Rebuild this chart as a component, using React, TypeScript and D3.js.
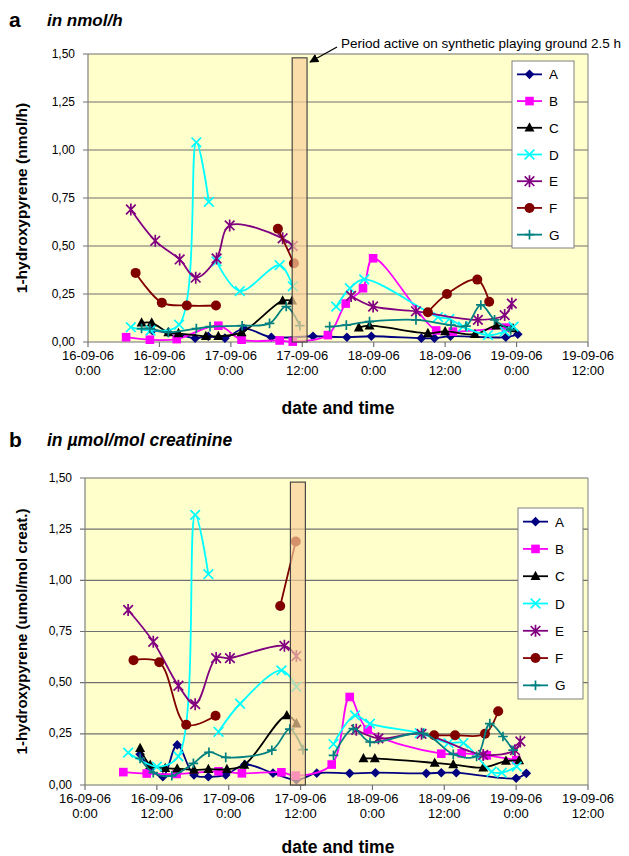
import React from "react";
import * as d3 from "d3";

// hours after 16-09-06 0:00, value; null breaks the line
type Pt = [number, number] | null;

const seriesNames = ["A", "B", "C", "D", "E", "F", "G"];
const seriesColors = ["#000080", "#FF00FF", "#000000", "#00FFFF", "#800080", "#800000", "#008080"];
const seriesMarkers = ["diamond", "square", "triangle", "x", "star", "circle", "plus"];

const yTicks = [0, 0.25, 0.5, 0.75, 1.0, 1.25, 1.5];
const xTickHours = [0, 12, 24, 36, 48, 60, 72, 84];
const xTickDays = ["16-09-06", "16-09-06", "17-09-06", "17-09-06", "18-09-06", "18-09-06", "19-09-06", "19-09-06"];
const xTickTimes = ["0:00", "12:00", "0:00", "12:00", "0:00", "12:00", "0:00", "12:00"];

// active period on the synthetic playing ground
const activeStart = 34.3;
const activeEnd = 36.8;
const activeTop = 1.48;

// ---- panel a: nmol/h
const aA: Pt[] = [[10.8, 0.06], [13.5, 0.05], [18, 0.02], [20.2, 0.03], [23, 0.02], [26.2, 0.07], [30.8, 0.025], [37.8, 0.03], [43.5, 0.025], [47.6, 0.03], [56, 0.02], [58.2, 0.02], [60.9, 0.03], [70.2, 0.025], [72.2, 0.04]];
const aB: Pt[] = [[6.4, 0.025], [10.4, 0.012], [14.9, 0.015], [21.9, 0.085], [25.8, 0.012], [32.2, 0.008], [34.4, 0.002], [40.3, 0.036], [43.3, 0.2], [46.2, 0.28], [47.9, 0.436], [58.5, 0.06], [61.3, 0.054], [70.2, 0.075]];
const aC: Pt[] = [[9, 0.1], [10.7, 0.1], [13.5, 0.05], [15.2, 0.045], [19.8, 0.03], [21.9, 0.03], [25.8, 0.05], [32.7, 0.215], [34.3, 0.215], null, [45.5, 0.075], [47.3, 0.085], [57.1, 0.045], [60, 0.055], [65, 0.04], [68.6, 0.085], [71.4, 0.07]];
const aD: Pt[] = [[7.2, 0.077], [10.5, 0.06], [15.3, 0.09], [18.2, 1.04], [20.3, 0.73], null, [21.6, 0.42], [25.5, 0.265], [32.2, 0.4], [34.4, 0.29], null, [41.7, 0.184], [44, 0.28], [46.4, 0.326], [58.8, 0.13], [60.7, 0.12], [63, 0.08], [67.2, 0.036], [70, 0.055], [71.5, 0.08]];
const aE: Pt[] = [[7.2, 0.69], [11.3, 0.527], [15.4, 0.43], [18.1, 0.335], [21.6, 0.435], [23.8, 0.607], [32.7, 0.54], [34.4, 0.5], null, [44.2, 0.24], [47.9, 0.185], [55.1, 0.16], [65.5, 0.115], [70, 0.14], [71.2, 0.2]];
const aF: Pt[] = [[8, 0.36], [12.4, 0.205], [16.6, 0.19], [21.5, 0.19], null, [31.9, 0.59], [34.6, 0.41], null, [57.1, 0.155], [60.3, 0.25], [65.4, 0.325], [67.4, 0.21]];
const aG: Pt[] = [[9, 0.07], [10.4, 0.07], [13.5, 0.05], [18.2, 0.07], [20.5, 0.08], [25.9, 0.085], [30.5, 0.097], [33.3, 0.185], [35.6, 0.085], null, [40.6, 0.08], [43.4, 0.088], [47.3, 0.106], [55.1, 0.115], [61, 0.088], [63.5, 0.083], [66, 0.193], [68.3, 0.115], [71, 0.063]];

// ---- panel b: umol/mol creatinine
const bA: Pt[] = [[9.2, 0.15], [10.9, 0.08], [13, 0.04], [15.4, 0.196], [18.2, 0.049], [20.6, 0.04], [23.5, 0.049], [26.7, 0.1], [31.4, 0.058], [35.3, 0.025], [38.7, 0.058], [44.2, 0.057], [48.5, 0.06], [57, 0.057], [59.5, 0.06], [62, 0.06], [72, 0.033], [73.7, 0.057]];
const bB: Pt[] = [[6.4, 0.063], [10.3, 0.056], [15.3, 0.054], [22.3, 0.067], [26.2, 0.057], [32.8, 0.062], [35.2, 0.046], [41.2, 0.1], [44.2, 0.43], [47.2, 0.27], [59.5, 0.153], [62.9, 0.155], [67.1, 0.145], [72, 0.122]];
const bC: Pt[] = [[9.2, 0.18], [10.9, 0.098], [13.4, 0.082], [15.4, 0.08], [18.2, 0.074], [20.6, 0.077], [23.7, 0.077], [26.6, 0.098], [33.7, 0.34], [35.3, 0.3], null, [46.5, 0.13], [48.4, 0.13], [58.4, 0.108], [61.5, 0.1], [66.5, 0.085], [70.3, 0.117], [72.5, 0.12]];
const bD: Pt[] = [[7.2, 0.158], [12, 0.09], [15.6, 0.14], [18.4, 1.32], [20.6, 1.03], null, [22.3, 0.26], [25.9, 0.397], [32.8, 0.56], [35.3, 0.48], null, [41.5, 0.2], [45.1, 0.34], [47.6, 0.3], [55.9, 0.253], [60.7, 0.205], [63.2, 0.205], [67.9, 0.065], [69.6, 0.06], [72.1, 0.09]];
const bE: Pt[] = [[7.2, 0.855], [11.4, 0.7], [15.6, 0.485], [18.4, 0.395], [21.9, 0.62], [24.2, 0.62], [33.3, 0.68], [35.3, 0.63], null, [45.3, 0.27], [49, 0.228], [56.2, 0.25], [66.5, 0.147], [71.8, 0.17], [72.7, 0.213]];
const bF: Pt[] = [[8.1, 0.61], [12.4, 0.6], [16.9, 0.294], [21.8, 0.338], null, [32.6, 0.875], [35.2, 1.19], null, [58.3, 0.243], [61.8, 0.243], [66.8, 0.25], [69, 0.36]];
const bG: Pt[] = [[9.2, 0.13], [11.4, 0.06], [14.5, 0.045], [18.1, 0.106], [20.7, 0.16], [23.5, 0.135], [31.2, 0.17], [34.2, 0.273], [36.4, 0.173], null, [41.5, 0.145], [44.8, 0.275], [47.6, 0.21], [56.5, 0.252], [61.5, 0.15], [65.4, 0.14], [67.6, 0.3], [69.8, 0.237], [71.5, 0.17]];

const panelAData = [aA, aB, aC, aD, aE, aF, aG];
const panelBData = [bA, bB, bC, bD, bE, bF, bG];

const FONT = "Arial, 'Liberation Sans', sans-serif";

function Marker({ kind, x, y, color }: { kind: string; x: number; y: number; color: string }) {
  const s = 4.8;
  if (kind === "diamond")
    return <path d={`M${x},${y - s}L${x + s},${y}L${x},${y + s}L${x - s},${y}Z`} fill={color} />;
  if (kind === "square")
    return <rect x={x - 4.3} y={y - 4.3} width={8.6} height={8.6} fill={color} />;
  if (kind === "triangle")
    return <path d={`M${x},${y - 5.5}L${x + 5},${y + 3.8}L${x - 5},${y + 3.8}Z`} fill={color} />;
  if (kind === "circle") return <circle cx={x} cy={y} r={5} fill={color} />;
  if (kind === "x")
    return <path d={`M${x - s},${y - s}L${x + s},${y + s}M${x - s},${y + s}L${x + s},${y - s}`} stroke={color} strokeWidth={1.7} />;
  if (kind === "star")
    return <path d={`M${x - s},${y - s}L${x + s},${y + s}M${x - s},${y + s}L${x + s},${y - s}M${x},${y - 6}L${x},${y + 6}`} stroke={color} strokeWidth={1.7} />;
  // plus
  return <path d={`M${x - s},${y}L${x + s},${y}M${x},${y - s}L${x},${y + s}`} stroke={color} strokeWidth={1.7} />;
}

type Layout = {
  left: number; right: number; top: number; bottom: number;
  legX: number; legY: number; legW: number; legH: number;
  titleY: number; xTitleY: number; titleSize: number; yTitleSize: number;
};

function Panel({ data, layout, letter, title, yTitle }: { data: Pt[][]; layout: Layout; letter: string; title: string; yTitle: string }) {
  const { left, right, top, bottom } = layout;
  const x = d3.scaleLinear().domain([0, 84]).range([left, right]);
  const y = d3.scaleLinear().domain([0, 1.5]).range([bottom, top]);
  const line = d3
    .line<Pt>()
    .defined((d) => d !== null)
    .x((d) => x((d as [number, number])[0]))
    .y((d) => y((d as [number, number])[1]))
    .curve(d3.curveCatmullRom.alpha(0.5));
  const fmt = (v: number) => d3.format(".2f")(v).replace(".", ",");
  const rowH = layout.legH / seriesNames.length;

  return (
    <g fontFamily={FONT}>
      <text x={9} y={layout.titleY} fontSize={21} fontWeight="bold">{letter}</text>
      <text x={47} y={layout.titleY - 1} fontSize={layout.titleSize} fontWeight="bold" fontStyle="italic">{title}</text>

      <rect x={left} y={top} width={right - left} height={bottom - top} fill="#FFFFCC" />
      {yTicks.map((t) => (
        <g key={t}>
          <line x1={left - 5} x2={right} y1={y(t)} y2={y(t)} stroke="#707070" strokeWidth={1.2} />
          <text x={left - 13} y={y(t) + 3.5} fontSize={12} textAnchor="end">{fmt(t)}</text>
        </g>
      ))}
      <line x1={left} x2={left} y1={top} y2={bottom} stroke="#808080" strokeWidth={1.2} />
      <line x1={right} x2={right} y1={top} y2={bottom} stroke="#808080" strokeWidth={1} />
      {xTickHours.map((h, i) => (
        <g key={h}>
          <line x1={x(h)} x2={x(h)} y1={bottom} y2={bottom + 5} stroke="#707070" strokeWidth={1.2} />
          <text x={x(h)} y={bottom + 18} fontSize={13} textAnchor="middle">{xTickDays[i]}</text>
          <text x={x(h)} y={bottom + 33} fontSize={13} textAnchor="middle">{xTickTimes[i]}</text>
        </g>
      ))}

      {data.map((s, i) => (
        <g key={seriesNames[i]}>
          <path d={line(s) || ""} fill="none" stroke={seriesColors[i]} strokeWidth={1.8} />
          {s.filter((d) => d !== null).map((d, j) => (
            <Marker key={j} kind={seriesMarkers[i]} x={x(d![0])} y={y(d![1])} color={seriesColors[i]} />
          ))}
        </g>
      ))}

      <rect x={x(activeStart)} y={y(activeTop)} width={x(activeEnd) - x(activeStart)} height={y(0) - y(activeTop)}
        fill="#F8CF98" fillOpacity={0.7} stroke="#3a3a3a" strokeWidth={1.1} />

      <rect x={layout.legX} y={layout.legY} width={layout.legW} height={layout.legH} fill="#FFFFFF" stroke="#808080" />
      {seriesNames.map((n, i) => {
        const cy = layout.legY + rowH * (i + 0.5);
        const x1 = layout.legX + 5;
        const x2 = layout.legX + 30;
        return (
          <g key={n}>
            <line x1={x1} x2={x2} y1={cy} y2={cy} stroke={seriesColors[i]} strokeWidth={1.8} />
            <Marker kind={seriesMarkers[i]} x={(x1 + x2) / 2} y={cy} color={seriesColors[i]} />
            <text x={x2 + 7} y={cy + 5} fontSize={13.5}>{n}</text>
          </g>
        );
      })}

      <text transform={`translate(27,${(top + bottom) / 2}) rotate(-90)`} fontSize={layout.yTitleSize} fontWeight="bold" textAnchor="middle">{yTitle}</text>
      <text x={338} y={layout.xTitleY} fontSize={17.5} fontWeight="bold" textAnchor="middle">date and time</text>
    </g>
  );
}

const layoutA: Layout = { left: 88, right: 588, top: 54, bottom: 342, legX: 512, legY: 61, legW: 62, legH: 187, titleY: 27, xTitleY: 414, titleSize: 17, yTitleSize: 15.5 };
const layoutB: Layout = { left: 85, right: 588, top: 478, bottom: 785, legX: 518, legY: 508, legW: 65, legH: 191, titleY: 447, xTitleY: 853, titleSize: 17.5, yTitleSize: 15 };

export default function App() {
  const xa = d3.scaleLinear().domain([0, 84]).range([layoutA.left, layoutA.right]);
  return (
    <svg width={629} height={856} style={{ position: "absolute", left: 0, top: 0, background: "#fff" }}>
      <Panel data={panelAData} layout={layoutA} letter="a" title="in nmol/h" yTitle="1-hydroxypyrene (nmol/h)" />
      <Panel data={panelBData} layout={layoutB} letter="b" title="in µmol/mol creatinine" yTitle="1-hydroxypyrene (umol/mol creat.)" />
      <defs>
        <marker id="arrowHead" viewBox="0 0 10 10" refX={9} refY={5} markerWidth={7} markerHeight={7} orient="auto">
          <path d="M0,0L10,5L0,10Z" fill="#000" />
        </marker>
      </defs>
      <line x1={337} y1={47} x2={xa(activeEnd) + 3} y2={62} stroke="#000" strokeWidth={1.3} markerEnd="url(#arrowHead)" />
      <text x={341} y={48} fontSize={13.5} fontFamily={FONT}>Period active on synthetic playing ground 2.5 h</text>
    </svg>
  );
}
